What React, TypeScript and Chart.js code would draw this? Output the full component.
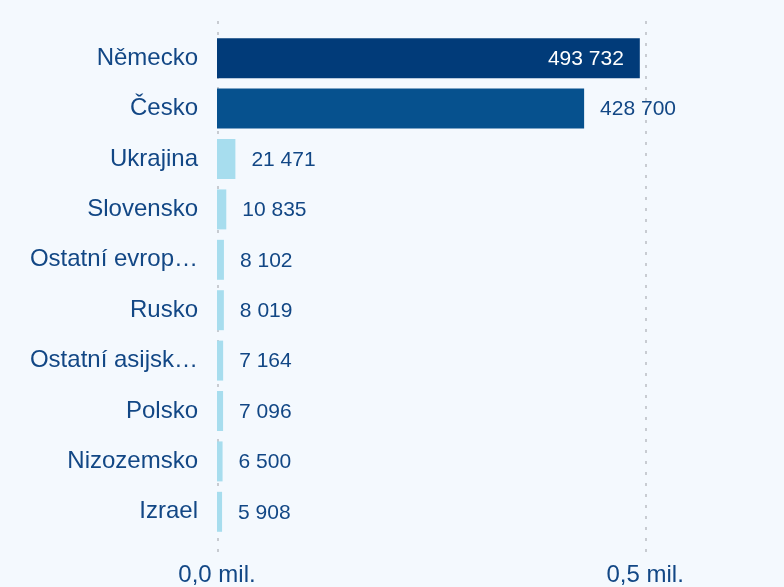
import React, { useEffect, useRef } from 'react';
import { Chart, registerables } from 'chart.js';

Chart.register(...registerables);

const categories: string[] = [
  'Německo',
  'Česko',
  'Ukrajina',
  'Slovensko',
  'Ostatní evropské země',
  'Rusko',
  'Ostatní asijské země',
  'Polsko',
  'Nizozemsko',
  'Izrael',
];
const values: number[] = [493732, 428700, 21471, 10835, 8102, 8019, 7164, 7096, 6500, 5908];
const barColors: string[] = [
  '#013b79',
  '#06518e',
  '#a7ddee',
  '#a7ddee',
  '#a7ddee',
  '#a7ddee',
  '#a7ddee',
  '#a7ddee',
  '#a7ddee',
  '#a7ddee',
];
const xTickValues: number[] = [0, 500000];
const xMax = 550000;

const FONT = '"Liberation Sans", Arial, Helvetica, sans-serif';
const TEXT_COLOR = '#124785';
const BG = '#f4f9fe';
const LABEL_SIZE = 24;
const VALUE_SIZE = 21;

const fmtThousands = (v: number) => String(v).replace(/\B(?=(\d{3})+(?!\d))/g, ' ');
const fmtMil = (v: number) => (v / 1e6).toFixed(1).replace('.', ',') + ' mil.';

const measureCtx = (() => {
  const c = document.createElement('canvas');
  return c.getContext('2d') as CanvasRenderingContext2D;
})();

function truncate(label: string, maxWidth: number): string {
  measureCtx.font = `${LABEL_SIZE}px ${FONT}`;
  if (measureCtx.measureText(label).width <= maxWidth) return label;
  let s = label;
  while (s.length > 1 && measureCtx.measureText(s + '…').width > maxWidth) {
    s = s.slice(0, -1);
  }
  return s.trimEnd() + '…';
}

const gridPlugin = {
  id: 'dashGrid',
  beforeDatasetsDraw(chart: any) {
    const { ctx, chartArea } = chart;
    const x = chart.scales.x;
    ctx.save();
    ctx.strokeStyle = '#c8ccd2';
    ctx.lineWidth = 2;
    ctx.setLineDash([3, 8]);
    xTickValues.forEach((v) => {
      const px = Math.round(x.getPixelForValue(v)) + 1;
      ctx.beginPath();
      ctx.moveTo(px, chartArea.top - 12);
      ctx.lineTo(px, chartArea.bottom + 16);
      ctx.stroke();
    });
    ctx.restore();
  },
};

const valueLabelPlugin = {
  id: 'valueLabels',
  afterDatasetsDraw(chart: any) {
    const { ctx, chartArea } = chart;
    const meta = chart.getDatasetMeta(0);
    ctx.save();
    ctx.font = `${VALUE_SIZE}px ${FONT}`;
    ctx.textBaseline = 'middle';
    meta.data.forEach((bar: any, i: number) => {
      const text = fmtThousands(values[i]);
      const w = ctx.measureText(text).width;
      const gap = 16;
      if (bar.x + gap + w <= chartArea.right) {
        ctx.fillStyle = TEXT_COLOR;
        ctx.textAlign = 'left';
        ctx.fillText(text, bar.x + gap, bar.y + 1);
      } else {
        ctx.fillStyle = '#ffffff';
        ctx.textAlign = 'right';
        ctx.fillText(text, bar.x - gap, bar.y + 1);
      }
    });
    ctx.restore();
  },
};

export default function App() {
  const canvasRef = useRef<HTMLCanvasElement | null>(null);

  useEffect(() => {
    document.body.style.margin = '0';
    document.body.style.background = BG;
    const canvas = canvasRef.current;
    if (!canvas) return;
    const chart = new Chart(canvas, {
      type: 'bar',
      data: {
        labels: categories,
        datasets: [
          {
            data: values,
            backgroundColor: barColors,
            borderWidth: 0,
            categoryPercentage: 1,
            barPercentage: 0.793,
          },
        ],
      },
      options: {
        indexAxis: 'y',
        responsive: false,
        animation: false,
        layout: { padding: { top: 33, right: 96, bottom: 0, left: 0 } },
        plugins: {
          legend: { display: false },
          tooltip: { enabled: false },
        },
        scales: {
          x: {
            min: 0,
            max: xMax,
            afterFit: (scale: any) => {
              scale.height = 50;
            },
            afterBuildTicks: (scale: any) => {
              scale.ticks = xTickValues.map((v) => ({ value: v }));
            },
            grid: { display: false, drawTicks: false },
            border: { display: false },
            ticks: {
              padding: 26,
              color: TEXT_COLOR,
              font: { family: FONT, size: LABEL_SIZE, lineHeight: 1 },
              maxRotation: 0,
              autoSkip: false,
              callback: (v: any) => fmtMil(Number(v)),
            },
          },
          y: {
            afterFit: (scale: any) => {
              scale.width = 217;
            },
            grid: { display: false, drawTicks: false },
            border: { display: false },
            ticks: {
              padding: 19,
              color: TEXT_COLOR,
              font: { family: FONT, size: LABEL_SIZE, lineHeight: 1 },
              autoSkip: false,
              callback: (_v: any, i: number) => truncate(categories[i], LABEL_SIZE * 7.25),
            },
          },
        },
      },
      plugins: [gridPlugin, valueLabelPlugin],
    });
    return () => chart.destroy();
  }, []);

  return (
    <div style={{ width: 784, height: 587, background: BG, overflow: 'hidden' }}>
      <canvas ref={canvasRef} width={784} height={587} style={{ display: 'block' }} />
    </div>
  );
}
